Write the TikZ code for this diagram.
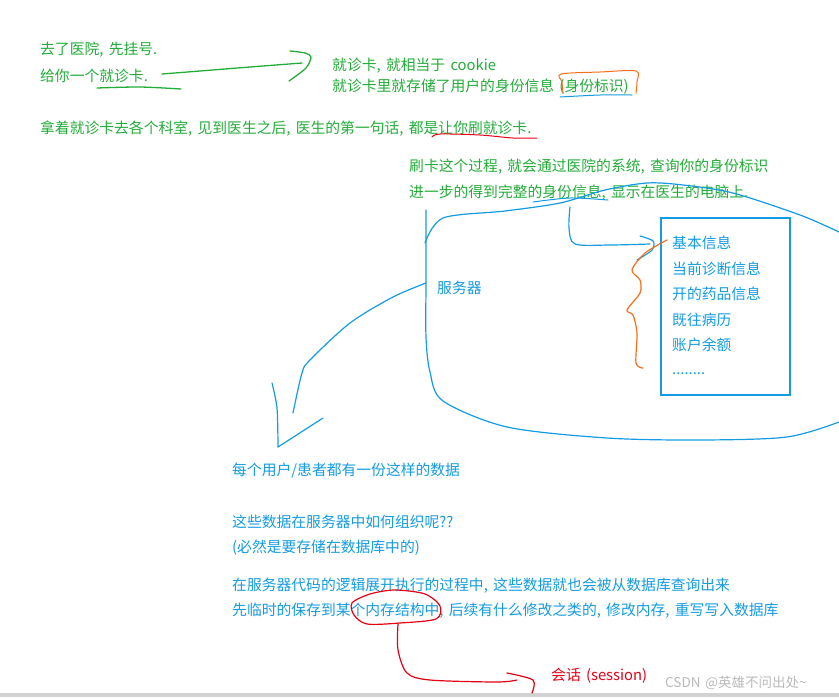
\documentclass[tikz,border=0pt]{standalone}
\usepackage{fontspec}
\setmainfont[WordSpace=1.6]{Noto Sans CJK SC}
\definecolor{tgreen}{RGB}{34,172,56}
\definecolor{tblue}{RGB}{20,155,225}
\definecolor{torange}{RGB}{245,110,30}
\definecolor{tred}{RGB}{230,0,20}
\definecolor{wmark}{RGB}{185,185,185}
\begin{document}
\begin{tikzpicture}[x=1pt,y=-1pt,
  txt/.style={anchor=west,inner sep=0pt,yshift=-2.5pt,text height=0.88em,text depth=0.12em,font=\fontsize{14.8}{18}\selectfont},
  gtxt/.style={txt,text=tgreen},
  btxt/.style={txt,text=tblue},
  pen/.style={line width=1.3pt,line cap=round,line join=round}]
\useasboundingbox (0,0) rectangle (839,697);
\fill[gray!35] (0,693) rectangle (839,697);

% green texts
\node[gtxt] (t1) at (40,48) {去了医院, 先挂号.};
\node[gtxt] (t2) at (40,75) {给你一个就诊卡.};
\node[gtxt] (t3) at (332,64) {就诊卡, 就相当于 cookie};
\node[gtxt] (t4) at (332,85) {就诊卡里就存储了用户的身份信息 (身份标识)};
\node[gtxt] (t5) at (40,127) {拿着就诊卡去各个科室, 见到医生之后, 医生的第一句话, 都是让你刷就诊卡.};
\node[gtxt] (t6) at (409,165) {刷卡这个过程, 就会通过医院的系统, 查询你的身份标识};
\node[gtxt] (t7) at (409,191) {进一步的得到完整的身份信息, 显示在医生的电脑上.};

% green strokes
\draw[pen,tgreen] plot[smooth] coordinates {(97,88) (140,87) (181,89)};
\draw[pen,tgreen] plot[smooth] coordinates {(162,74) (200,71) (250,67) (302,63)};
\draw[pen,tgreen] plot[smooth] coordinates {(290,51) (305,53) (311,57) (306,68) (289,81)};

% orange bracket and blue underline around (身份标识)
\draw[pen,torange,line width=1pt] plot[smooth] coordinates {(563,93) (562,82) (561,74) (600,72) (636,71) (637,82) (636,93)};
\draw[pen,tblue,line width=1pt] plot[smooth] coordinates {(560,97) (600,95) (632,95)};

% red underline
\draw[pen,tred,line width=1pt] plot[smooth] coordinates {(432,137) (440,134) (480,135) (513,138) (537,138)};

% blue underline 身份信息
\draw[pen,tblue,line width=1pt] plot[smooth] coordinates {(533,202) (570,198) (608,200)};

% server blob
\draw[pen,tblue,line width=1.2pt] plot[smooth] coordinates {(426,210) (426,280) (426,337) (430,372) (443,401) (507,427) (607,438) (700,440) (787,437) (839,422)};
\draw[pen,tblue,line width=1.2pt] plot[smooth] coordinates {(425,243) (443,218) (505,211) (560,203) (605,190) (647,183) (683,185) (733,193) (800,215) (839,232)};
\node[btxt] (srv) at (437,287) {服务器};

% inner box
\draw[tblue,line width=2.6pt] (661,218) rectangle (790,395);
\node[btxt] (b1) at (672,242) {基本信息};
\node[btxt] (b2) at (672,268) {当前诊断信息};
\node[btxt] (b3) at (672,293) {开的药品信息};
\node[btxt] (b4) at (672,319) {既往病历};
\node[btxt] (b5) at (672,344) {账户余额};
\node[btxt] (b6) at (672,368) {........};

% blue hook into box
\draw[pen,tblue,line width=1.2pt] plot[smooth] coordinates {(570,207) (569,228) (575,244) (610,245) (650,244)};
\draw[pen,tblue,line width=1.2pt] plot[smooth] coordinates {(640,236) (653,241) (652,250) (637,260)};

% orange brace
\draw[pen,torange,line width=1.2pt] plot[smooth] coordinates {(667,240) (645,253) (632,270) (640,280) (640,293) (627,310) (633,315) (637,333) (636,363) (643,368)};

% arrow from server to the left
\draw[pen,tblue,line width=1.2pt] plot[smooth] coordinates {(426,283) (393,297) (350,323) (310,360) (302,373) (293,413)};
\draw[pen,tblue,line width=1.2pt] plot[smooth] coordinates {(272,383) (277,408) (278,447)};
\draw[pen,tblue,line width=1.2pt] (278,447) -- (323,418);

% lower blue texts
\node[btxt] (l1) at (232,469) {每个用户/患者都有一份这样的数据};
\node[btxt] (l2) at (232,521) {这些数据在服务器中如何组织呢??};
\node[btxt] (l3) at (232,546) {(必然是要存储在数据库中的)};
\node[btxt] (l4) at (232,584) {在服务器代码的逻辑展开执行的过程中, 这些数据就也会被从数据库查询出来};
\node[btxt] (l5) at (232,609) {先临时的保存到某个内存结构中, 后续有什么修改之类的, 修改内存, 重写写入数据库};

% red ellipse and arrow
\draw[pen,tred,line width=1.2pt] plot[smooth cycle] coordinates {(352,603) (370,594) (395,590) (425,594) (440,606) (436,619) (400,623) (367,624) (354,615)};
\draw[pen,tred,line width=1.2pt] plot[smooth] coordinates {(398,624) (398,650) (407,673) (430,680) (497,682) (517,680)};
\draw[pen,tred,line width=1.2pt] plot[smooth] coordinates {(507,673) (533,680) (532,693)};
\node[txt,text=tred] (sess) at (551,674) {会话 (session)};

% watermark
\node[txt,text=wmark,font=\fontsize{13.5}{16}\selectfont] (wm) at (665,681) {CSDN @英雄不问出处\textasciitilde};
\end{tikzpicture}
\end{document}
